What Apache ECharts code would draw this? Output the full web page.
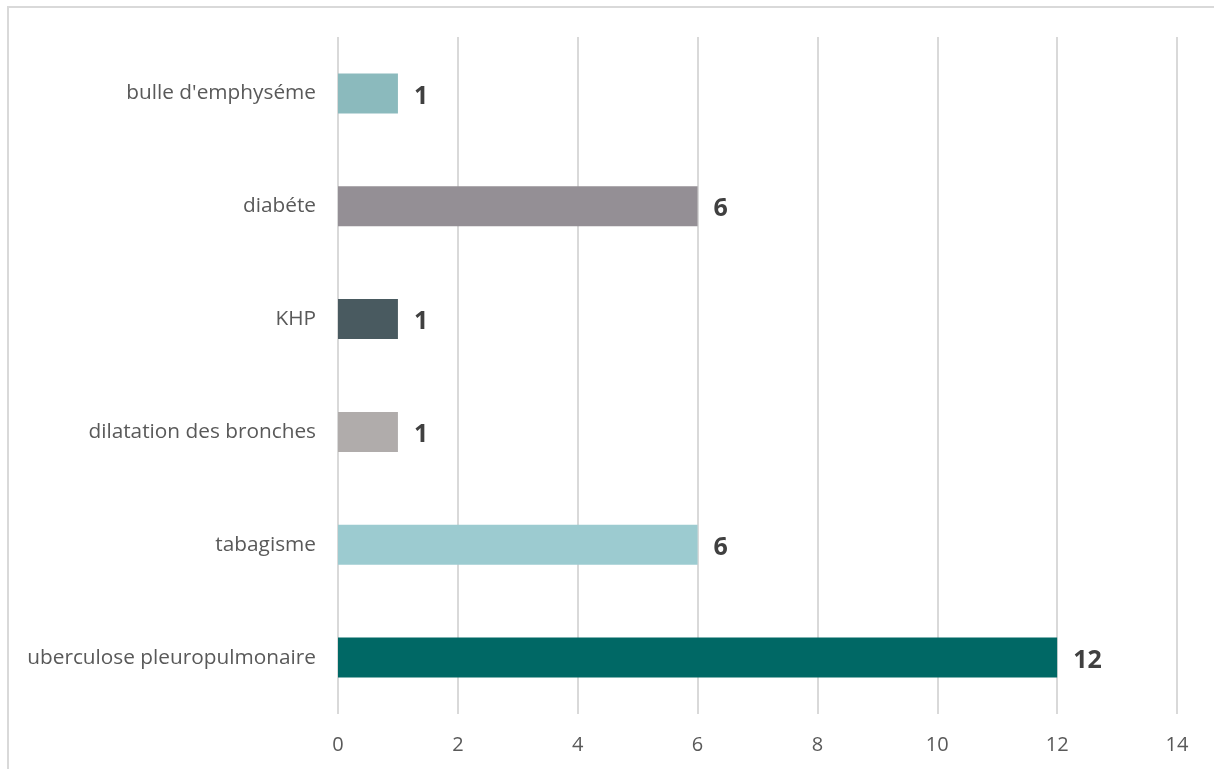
<!DOCTYPE html>
<html>
<head>
<meta charset="utf-8">
<script src="https://cdn.jsdelivr.net/npm/echarts@6/dist/echarts.min.js"></script>
<style>
  html, body { margin: 0; padding: 0; background: #fff; }
  #chart { width: 1214px; height: 769px; }
</style>
</head>
<body>
<div id="chart"></div>
<script>
// Categories from top to bottom
const categories = [
  "bulle d'emphyséme",
  "diabéte",
  "KHP",
  "dilatation des bronches",
  "tabagisme",
  "uberculose pleuropulmonaire"
];
const values = [1, 6, 1, 1, 6, 12];
const barColors = ["#8bbabd", "#948f95", "#495a60", "#b0acab", "#9ccbd0", "#006865"];
const xTicks = [0, 2, 4, 6, 8, 10, 12, 14];

const font = "'Open Sans', 'Noto Sans', sans-serif";
const chart = echarts.init(document.getElementById('chart'));

chart.setOption({
  animation: false,
  backgroundColor: '#ffffff',
  graphic: [{
    type: 'rect',
    shape: { x: 8, y: 7, width: 1220, height: 780 },
    style: { fill: 'none', stroke: '#d9d9d9', lineWidth: 2 },
    silent: true
  }],
  grid: { left: 338, right: 37, top: 37, bottom: 55 },
  xAxis: {
    type: 'value',
    min: xTicks[0],
    max: xTicks[xTicks.length - 1],
    interval: 2,
    axisLine: { show: false },
    axisTick: { show: false },
    splitLine: { show: true, lineStyle: { color: '#d9d9d9', width: 2 } },
    axisLabel: {
      color: '#595959', fontSize: 20, fontFamily: font, margin: 21
    }
  },
  yAxis: {
    type: 'category',
    inverse: true,
    data: categories,
    axisLine: { show: false },
    axisTick: { show: false },
    axisLabel: {
      color: '#595959', fontSize: 20.8, fontFamily: font, margin: 22,
      padding: [5, 0, 0, 0]
    }
  },
  series: [{
    type: 'bar',
    barWidth: 40,
    data: values.map((v, i) => ({ value: v, itemStyle: { color: barColors[i] } })),
    label: {
      show: true,
      position: 'right',
      distance: 16,
      color: '#404040',
      fontSize: 25,
      fontWeight: 'bold',
      fontFamily: font,
      offset: [0, 3]
    }
  }]
});
</script>
</body>
</html>
